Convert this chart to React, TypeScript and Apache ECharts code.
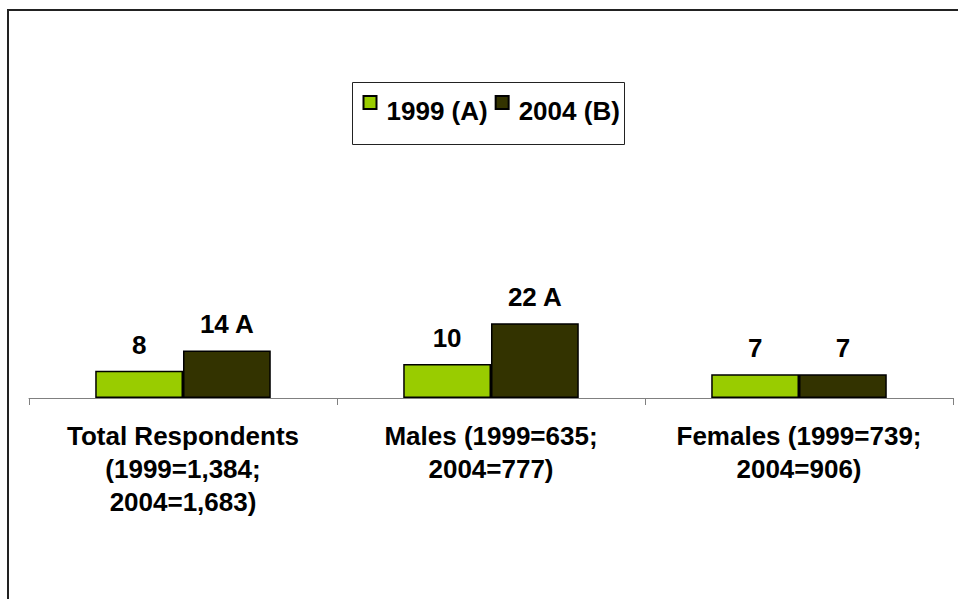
import React, { useEffect, useRef } from "react";
import * as echarts from "echarts";

const categories = [
  "Total Respondents\n(1999=1,384;\n2004=1,683)",
  "Males (1999=635;\n2004=777)",
  "Females (1999=739;\n2004=906)",
];
const seriesNames = ["1999 (A)", "2004 (B)"];
const values1999 = [8, 10, 7];
const values2004 = [14, 22, 7];
const sig1999 = ["", "", ""];
const sig2004 = ["A", "A", ""];

const FONT = "'Liberation Sans', Arial, sans-serif";
// legend icon: 13x13 square raised above the text centre (trailing moveTo extends its box)
const LEGEND_ICON = "path://M0,0L13,0L13,13L0,13Z M0,30";

export default function App() {
  const ref = useRef<HTMLDivElement>(null);
  useEffect(() => {
    document.body.style.margin = "0";
    document.body.style.overflow = "hidden";
    document.documentElement.style.overflow = "hidden";
    if (!ref.current) return;
    const chart = echarts.init(ref.current, null, { renderer: "svg" });
    const labelFor = (sig: string[]) => (p: any) =>
      sig[p.dataIndex] ? `${p.value} ${sig[p.dataIndex]}` : `${p.value}`;
    const barLabel = (sig: string[]) => ({
      show: true,
      position: "top",
      distance: 13,
      color: "#000",
      fontFamily: FONT,
      fontWeight: "bold",
      fontSize: 26,
      formatter: labelFor(sig),
    });
    chart.setOption({
      animation: false,
      textStyle: { fontFamily: FONT },
      graphic: [
        {
          type: "rect",
          shape: { x: 344.5, y: 74.5, width: 272, height: 62 },
          style: { fill: "none", stroke: "#222", lineWidth: 1 },
          silent: true,
        },
      ],
      legend: {
        left: 354.5,
        top: 87,
        padding: 0,
        itemGap: 7,
        itemWidth: 13,
        itemHeight: 30,
        icon: LEGEND_ICON,
        data: seriesNames,
        textStyle: {
          fontFamily: FONT,
          fontWeight: "bold",
          fontSize: 26,
          color: "#000",
          padding: [0, 0, 0, 5],
        },
      },
      grid: { left: 21, right: 5, top: 50, bottom: 201, containLabel: false },
      xAxis: {
        type: "category",
        data: categories,
        axisLine: { lineStyle: { color: "#808080", width: 1 } },
        axisTick: { show: true, length: 7, lineStyle: { color: "#808080" } },
        axisLabel: {
          interval: 0,
          margin: 21,
          color: "#000",
          fontFamily: FONT,
          fontWeight: "bold",
          fontSize: 26,
          lineHeight: 33,
          align: "center",
        },
      },
      yAxis: {
        type: "value",
        min: 0,
        max: 100,
        show: false,
        splitLine: { show: false },
      },
      series: [
        {
          name: seriesNames[0],
          type: "bar",
          data: values1999,
          barGap: "0%",
          barCategoryGap: "43%",
          itemStyle: { color: "#99CC00", borderColor: "#000", borderWidth: 1.5 },
          label: barLabel(sig1999),
        },
        {
          name: seriesNames[1],
          type: "bar",
          data: values2004,
          itemStyle: { color: "#333300", borderColor: "#000", borderWidth: 1.5 },
          label: barLabel(sig2004),
        },
      ],
    });
    return () => chart.dispose();
  }, []);
  return (
    <div style={{ position: "relative", width: 958, height: 599, overflow: "hidden" }}>
      <div
        style={{
          position: "absolute",
          left: 7,
          top: 9,
          width: 980,
          height: 620,
          boxSizing: "border-box",
          borderTop: "2px solid #222",
          borderLeft: "2px solid #222",
        }}
      />
      <div
        ref={ref}
        style={{ position: "absolute", left: 8, top: 8, width: 950, height: 591 }}
      />
    </div>
  );
}
